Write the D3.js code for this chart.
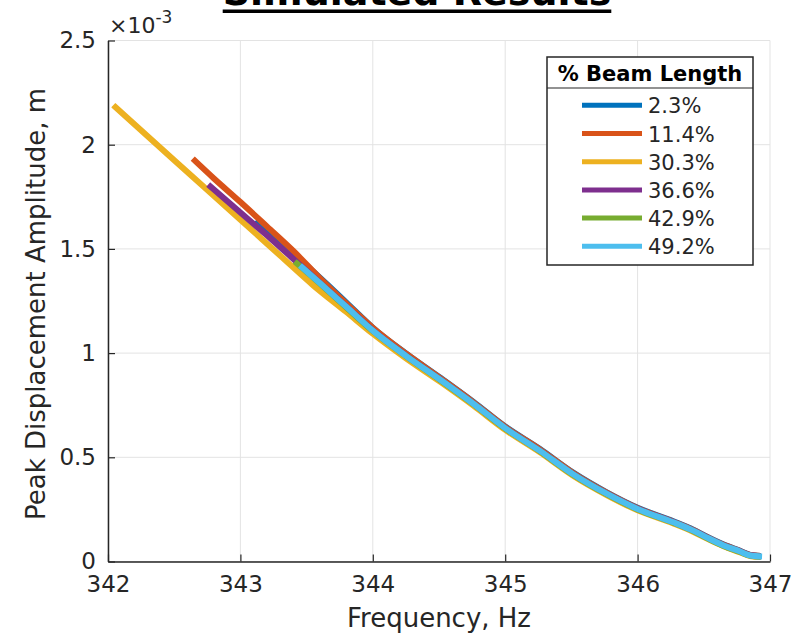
<!DOCTYPE html>
<html>
<head>
<meta charset="utf-8">
<script src="https://cdn.jsdelivr.net/npm/d3@7"></script>
<style>
  html, body { margin: 0; padding: 0; background: #fff; }
  svg { display: block; font-family: "DejaVu Sans", sans-serif; }
</style>
</head>
<body>
<svg id="chart" width="805" height="636"></svg>
<script>
// ---- data (amplitude in units of 1e-3 m) ----
const titleText = "Simulated Results";
const xLabel = "Frequency, Hz";
const yLabel = "Peak Displacement Amplitude, m";
const legendTitle = "% Beam Length";
const freqTicks = [342, 343, 344, 345, 346, 347];
const ampTicks = [0, 0.5, 1, 1.5, 2, 2.5];
const ampTickLabels = ["0", "0.5", "1", "1.5", "2", "2.5"];
const seriesNames = ["2.3%", "11.4%", "30.3%", "36.6%", "42.9%", "49.2%"];

const s2_3 = [[343.12,1.640],[343.3,1.535],[343.5,1.420],[343.7,1.303],[343.9,1.182],[344.0,1.122],[344.25,0.999],[344.51,0.882],[344.76,0.766],[345.0,0.648],[345.26,0.541],[345.51,0.428],[345.77,0.331],[346.0,0.258],[346.27,0.193],[346.42,0.153],[346.52,0.120],[346.65,0.081],[346.77,0.052],[346.85,0.032],[346.93,0.027]];
const s11_4 = [[342.64,1.933],[342.8,1.838],[343.0,1.725],[343.2,1.608],[343.4,1.490],[343.6,1.360],[343.8,1.238],[344.0,1.122],[344.25,0.998],[344.51,0.880],[344.76,0.764],[345.0,0.646],[345.26,0.539],[345.51,0.426],[345.77,0.329],[346.0,0.256],[346.27,0.191],[346.42,0.151],[346.52,0.119],[346.65,0.080],[346.77,0.051],[346.85,0.031],[346.93,0.026]];
const s30_3 = [[342.04,2.190],[342.5,1.925],[343.0,1.640],[343.3,1.468],[343.55,1.325],[343.8,1.197],[344.0,1.093],[344.25,0.975],[344.51,0.862],[344.76,0.748],[345.0,0.632],[345.26,0.525],[345.51,0.413],[345.77,0.318],[346.0,0.246],[346.27,0.183],[346.42,0.143],[346.52,0.111],[346.65,0.073],[346.77,0.045],[346.85,0.026],[346.93,0.021]];
const s36_6 = [[342.757,1.809],[343.0,1.675],[343.2,1.565],[343.4,1.452],[343.6,1.338],[343.8,1.224],[344.0,1.110],[344.25,0.989],[344.51,0.873],[344.76,0.758],[345.0,0.641],[345.26,0.533],[345.51,0.421],[345.77,0.325],[346.0,0.253],[346.27,0.189],[346.42,0.149],[346.52,0.117],[346.65,0.078],[346.77,0.050],[346.85,0.030],[346.93,0.025]];
const s42_9 = [[343.41,1.440],[343.6,1.334],[343.8,1.219],[344.0,1.106],[344.25,0.986],[344.51,0.870],[344.76,0.755],[345.0,0.638],[345.26,0.530],[345.51,0.418],[345.77,0.322],[346.0,0.250],[346.27,0.186],[346.42,0.146],[346.52,0.114],[346.65,0.075],[346.77,0.047],[346.85,0.028],[346.93,0.023]];
const s49_2 = [[343.45,1.420],[343.6,1.336],[343.8,1.222],[344.0,1.108],[344.25,0.987],[344.51,0.872],[344.76,0.757],[345.0,0.640],[345.26,0.532],[345.51,0.420],[345.77,0.324],[346.0,0.252],[346.27,0.188],[346.42,0.148],[346.52,0.116],[346.65,0.077],[346.77,0.049],[346.85,0.029],[346.94,0.024]];

const seriesData = [s2_3, s11_4, s30_3, s36_6, s42_9, s49_2];
const colors = ["#0072BD", "#D95319", "#EDB120", "#7E2F8E", "#77AC30", "#4DBEEE"];

// ---- layout ----
const svg = d3.select("#chart");
const pL = 108, pR = 770, pT = 40.5, pB = 561.5;
const axisColor = "#262626";

const x = d3.scaleLinear().domain([342, 347]).range([pL, pR]);
const y = d3.scaleLinear().domain([0, 2.5]).range([pB, pT]);

// grid
const grid = svg.append("g");
grid.selectAll("line.vx").data(freqTicks).enter().append("line")
  .attr("x1", d => x(d)).attr("x2", d => x(d)).attr("y1", pT).attr("y2", pB)
  .attr("stroke", "#e3e3e3").attr("stroke-width", 1);
grid.selectAll("line.hy").data(ampTicks).enter().append("line")
  .attr("x1", pL).attr("x2", pR).attr("y1", d => y(d)).attr("y2", d => y(d))
  .attr("stroke", "#e3e3e3").attr("stroke-width", 1);

// series
const line = d3.line().x(d => x(d[0])).y(d => y(d[1])).curve(d3.curveMonotoneX);
svg.append("g").selectAll("path").data(seriesData).enter().append("path")
  .attr("d", d => line(d))
  .attr("fill", "none")
  .attr("stroke", (d, i) => colors[i])
  .attr("stroke-width", 6)
  .attr("stroke-linejoin", "round");

// axes
const xAxis = d3.axisBottom(x).tickValues(freqTicks).tickFormat(d3.format("d")).tickSizeInner(-7).tickSizeOuter(0).tickPadding(14);
const gx = svg.append("g").attr("transform", `translate(0,${pB})`).call(xAxis);
gx.select(".domain").attr("stroke", axisColor).attr("stroke-width", 1.5);
gx.selectAll(".tick line").attr("stroke", axisColor).attr("stroke-width", 1.2);
gx.selectAll(".tick text").attr("fill", axisColor).style("font-size", "23px").attr("font-family", "DejaVu Sans");

const yAxis = d3.axisLeft(y).tickValues(ampTicks).tickFormat((d, i) => ampTickLabels[i]).tickSizeInner(-7).tickSizeOuter(0).tickPadding(12);
const gy = svg.append("g").attr("transform", `translate(${pL},0)`).call(yAxis);
gy.select(".domain").attr("stroke", axisColor).attr("stroke-width", 1.5);
gy.selectAll(".tick line").attr("stroke", axisColor).attr("stroke-width", 1.2);
gy.selectAll(".tick text").attr("fill", axisColor).style("font-size", "23px").attr("font-family", "DejaVu Sans");

// exponent label
const ex = svg.append("text").attr("x", 109).attr("y", 33).attr("fill", axisColor)
  .style("font-size", "22px");
ex.append("tspan").text("\u00d710");
ex.append("tspan").attr("dy", -10).style("font-size", "17px").text("-3");

// axis labels
svg.append("text").attr("x", (pL + pR) / 2).attr("y", 627).attr("text-anchor", "middle")
  .attr("fill", axisColor).style("font-size", "26px").text(xLabel);
svg.append("text").attr("transform", `translate(45,${(pB + pT) / 2 + 3}) rotate(-90)`)
  .attr("text-anchor", "middle").attr("fill", axisColor).style("font-size", "26px").text(yLabel);

// title (partially clipped at top, as in the source figure)
const tt = svg.append("text").attr("x", 417).attr("y", 5).attr("text-anchor", "middle")
  .attr("fill", "#000").style("font-size", "38px").style("font-weight", "bold").text(titleText);
const tw = tt.node().getComputedTextLength();
svg.append("rect").attr("x", 417 - tw / 2).attr("y", 9.5).attr("width", tw).attr("height", 3.5).attr("fill", "#000");

// legend
const lg = svg.append("g");
const lx0 = 547, lx1 = 753, ly0 = 57, ly1 = 265, lsep = 88;
lg.append("rect").attr("x", lx0).attr("y", ly0).attr("width", lx1 - lx0).attr("height", ly1 - ly0)
  .attr("fill", "#fff").attr("stroke", axisColor).attr("stroke-width", 1.5);
lg.append("line").attr("x1", lx0).attr("x2", lx1).attr("y1", lsep).attr("y2", lsep)
  .attr("stroke", axisColor).attr("stroke-width", 1.2);
lg.append("text").attr("x", (lx0 + lx1) / 2).attr("y", 81).attr("text-anchor", "middle")
  .attr("fill", "#000").style("font-size", "21px").style("font-weight", "bold").text(legendTitle);
const rowY = d3.scalePoint().domain(seriesNames).range([113.3, 254.3]);
const rows = lg.selectAll("g.row").data(seriesNames).enter().append("g");
rows.append("line").attr("x1", 582).attr("x2", 642)
  .attr("y1", d => rowY(d) - 8).attr("y2", d => rowY(d) - 8)
  .attr("stroke", (d, i) => colors[i]).attr("stroke-width", 5);
rows.append("text").attr("x", 648).attr("y", d => rowY(d)).attr("fill", axisColor)
  .style("font-size", "21px").text(d => d);
</script>
</body>
</html>
